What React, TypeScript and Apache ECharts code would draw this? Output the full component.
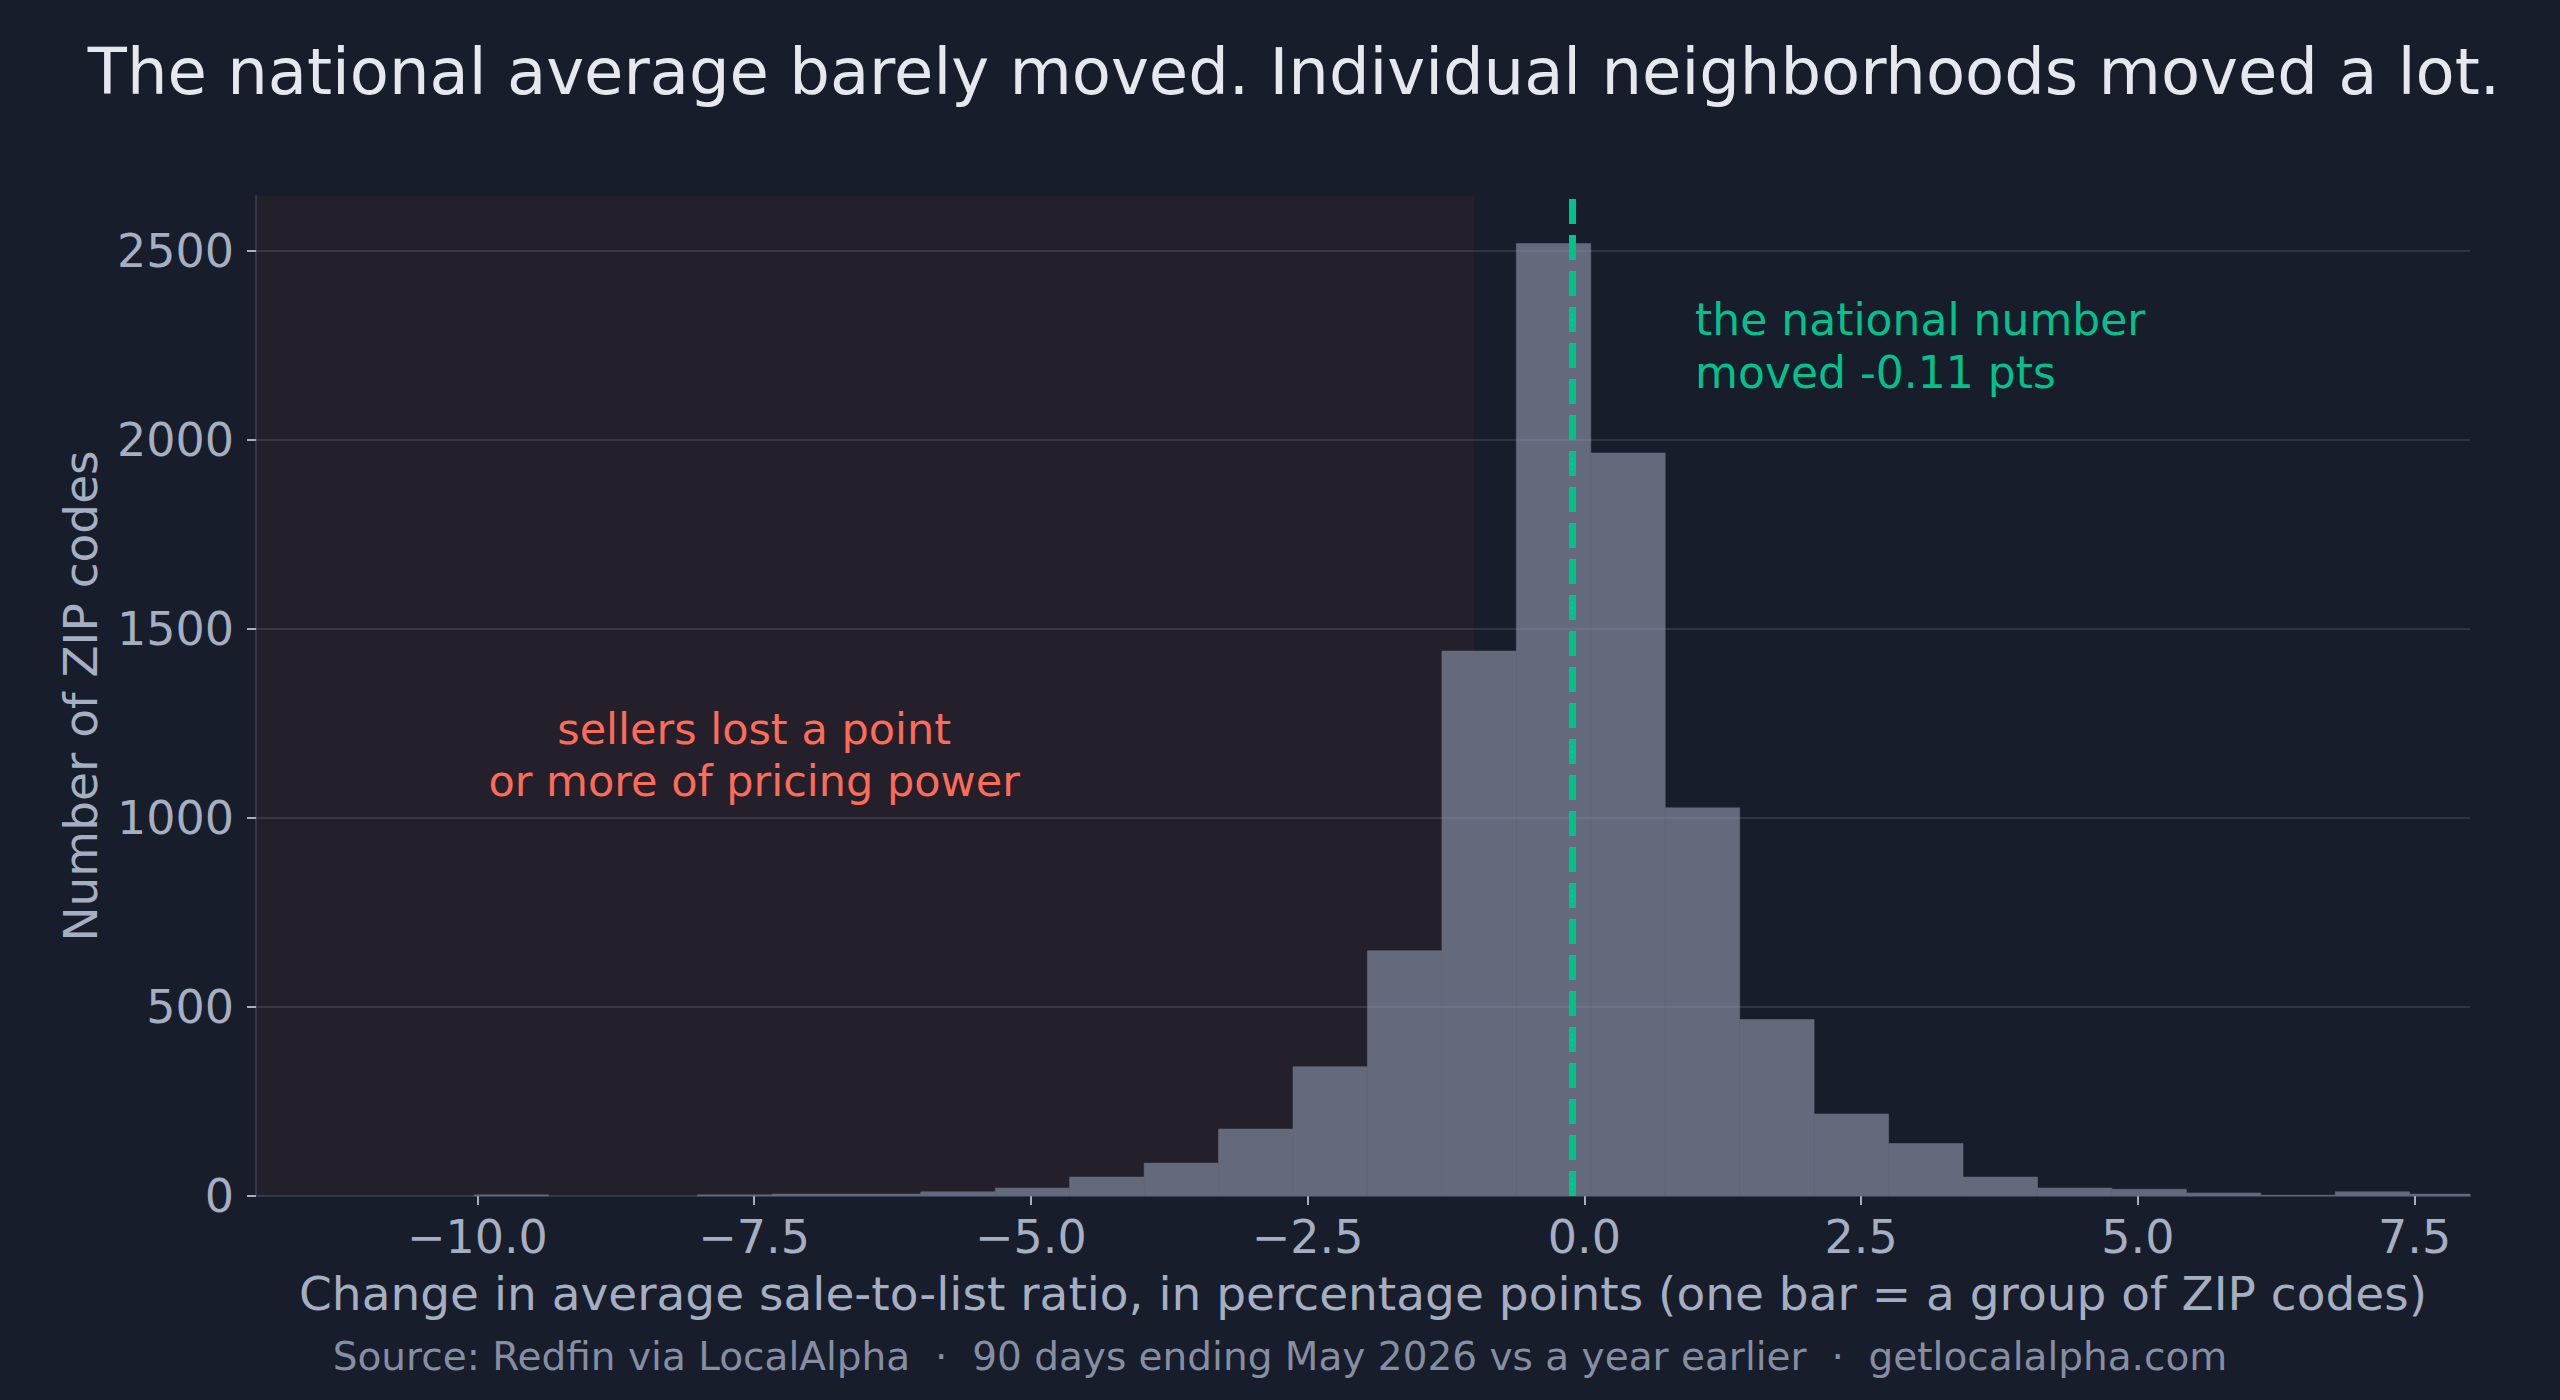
import React, { useEffect, useRef } from "react";
import * as echarts from "echarts";

// Histogram bin edges (percentage points) and ZIP-code counts per bin
const binEdges = [
  -10.03, -9.357, -8.685, -8.012, -7.34, -6.667, -5.995, -5.322, -4.65, -3.977,
  -3.305, -2.632, -1.96, -1.287, -0.615, 0.058, 0.73, 1.403, 2.075, 2.748,
  3.42, 4.093, 4.765, 5.438, 6.11, 6.783, 7.455, 8.128,
];
const binCounts = [
  3, 0, 0, 3, 5, 5, 11, 21, 50, 87, 177, 342, 649, 1442, 2520, 1966, 1027, 467,
  217, 139, 50, 21, 18, 8, 2, 11, 5,
];
const xTicks = [-10, -7.5, -5, -2.5, 0, 2.5, 5, 7.5];
const yTicks = [0, 500, 1000, 1500, 2000, 2500];
const nationalChange = -0.11;
const shadeRange = [-12, -1];
const xRange = [-12, 8];
const yRange = [0, 2646];

const TITLE = "The national average barely moved. Individual neighborhoods moved a lot.";
const X_NAME = "Change in average sale-to-list ratio, in percentage points (one bar = a group of ZIP codes)";
const Y_NAME = "Number of ZIP codes";
const SOURCE = "Source: Redfin via LocalAlpha  \u00b7  90 days ending May 2026 vs a year earlier  \u00b7  getlocalalpha.com";
const GREEN_NOTE = "the national number\nmoved -0.11 pts";
const RED_NOTE = "sellers lost a point\nor more of pricing power";

const FONT = '"DejaVu Sans", "Liberation Sans", sans-serif';
const BG = "#181d2b";
const BAR = "#646a7c";
const LABEL = "#a6aec1";
const SPINE = "#2e3649";
const GREEN = "#00c28c";
const RED = "#ff6b57";

export default function App() {
  const ref = useRef<HTMLDivElement>(null);

  useEffect(() => {
    document.body.style.margin = "0";
    document.body.style.background = BG;
    const chart = echarts.init(ref.current!, null, { renderer: "svg" });
    const histData = binCounts.map((c, i) => [binEdges[i], binEdges[i + 1], c]);

    chart.setOption({
      animation: false,
      backgroundColor: BG,
      textStyle: { fontFamily: FONT },
      grid: { left: 256, right: 90, top: 196, bottom: 204, containLabel: false },
      xAxis: {
        type: "value",
        min: xRange[0],
        max: xRange[1],
        name: X_NAME,
        nameLocation: "middle",
        nameGap: 74,
        nameTextStyle: { color: LABEL, fontSize: 47, fontFamily: FONT },
        axisLine: { show: true, onZero: false, lineStyle: { color: SPINE, width: 2 } },
        axisTick: {
          show: true,
          length: 9,
          customValues: xTicks,
          lineStyle: { color: LABEL, width: 2 },
        },
        axisLabel: {
          customValues: xTicks,
          color: LABEL,
          fontSize: 46,
          fontFamily: FONT,
          margin: 18,
          formatter: (v: number) => (v < 0 ? "\u2212" : "") + Math.abs(v).toFixed(1),
        },
        splitLine: { show: false },
      },
      yAxis: {
        type: "value",
        min: yRange[0],
        max: yRange[1],
        name: Y_NAME,
        nameLocation: "middle",
        nameGap: 152,
        nameRotate: 90,
        nameTextStyle: { color: LABEL, fontSize: 47, fontFamily: FONT },
        axisLine: { show: true, onZero: false, lineStyle: { color: SPINE, width: 2 } },
        axisTick: {
          show: true,
          length: 9,
          customValues: yTicks,
          lineStyle: { color: LABEL, width: 2 },
        },
        axisLabel: {
          customValues: yTicks,
          color: LABEL,
          fontSize: 46,
          fontFamily: FONT,
          margin: 22,
          formatter: (v: number) => String(v),
        },
        splitLine: { show: false },
      },
      graphic: [
        {
          type: "text",
          x: 1294,
          y: 72,
          style: {
            text: TITLE,
            fill: "#e6e8ef",
            fontSize: 64,
            fontFamily: FONT,
            align: "center",
            verticalAlign: "middle",
          },
        },
        {
          type: "text",
          x: 1280,
          y: 1356,
          style: {
            text: SOURCE,
            fill: "#868ea3",
            fontSize: 39,
            fontFamily: FONT,
            align: "center",
            verticalAlign: "middle",
          },
        },
      ],
      series: [
        {
          type: "line",
          data: [],
          z: 1,
          silent: true,
          markArea: {
            silent: true,
            itemStyle: { color: "rgba(255,107,87,0.05)" },
            data: [[{ coord: [shadeRange[0], yRange[0]] }, { coord: [shadeRange[1], yRange[1]] }]],
          },
        },
        {
          type: "custom",
          z: 2,
          silent: true,
          data: histData,
          encode: { x: [0, 1], y: 2 },
          renderItem: (params: any, api: any) => {
            const x0 = api.value(0);
            const x1 = api.value(1);
            const y = api.value(2);
            if (!y) return null;
            const p0 = api.coord([x0, y]);
            const p1 = api.coord([x1, 0]);
            const cs = params.coordSys;
            const shape = echarts.graphic.clipRectByRect(
              { x: p0[0], y: p0[1], width: p1[0] - p0[0], height: p1[1] - p0[1] },
              { x: cs.x, y: cs.y, width: cs.width, height: cs.height }
            );
            if (!shape) return null;
            return {
              type: "rect",
              shape,
              style: { fill: BAR, stroke: BAR, lineWidth: 0.6 },
            };
          },
        },
        {
          type: "line",
          data: [],
          z: 3,
          silent: true,
          markLine: {
            silent: true,
            symbol: ["none", "none"],
            label: { show: false },
            lineStyle: { color: "rgba(148,163,184,0.18)", width: 2, type: "solid" },
            data: yTicks.slice(1).map((v) => ({ yAxis: v })),
          },
        },
        {
          type: "line",
          data: [],
          z: 4,
          silent: true,
          markLine: {
            silent: true,
            symbol: ["none", "none"],
            label: { show: false },
            lineStyle: { color: GREEN, width: 7, type: [25, 11] },
            data: [[{ coord: [nationalChange, yRange[0]] }, { coord: [nationalChange, yRange[1]] }]],
          },
          markPoint: {
            silent: true,
            symbol: "circle",
            symbolSize: 0,
            data: [
              {
                coord: [1.0, 2390],
                label: {
                  show: true,
                  position: [0, 0],
                  align: "left",
                  verticalAlign: "top",
                  formatter: GREEN_NOTE,
                  color: GREEN,
                  fontSize: 44,
                  lineHeight: 53,
                  fontFamily: FONT,
                },
              },
              {
                coord: [-7.5, 1167],
                label: {
                  show: true,
                  position: [0, 0],
                  align: "center",
                  verticalAlign: "middle",
                  formatter: RED_NOTE,
                  color: RED,
                  fontSize: 43,
                  lineHeight: 52,
                  fontFamily: FONT,
                },
              },
            ],
          },
        },
      ],
    });

    return () => chart.dispose();
  }, []);

  return (
    <div
      ref={ref}
      style={{ position: "absolute", left: 0, top: 0, width: 2560, height: 1400 }}
    />
  );
}
